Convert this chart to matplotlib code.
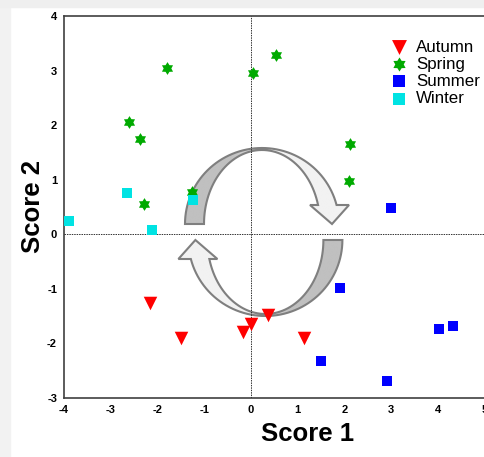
import numpy as np
import matplotlib
matplotlib.use("Agg")
import matplotlib.pyplot as plt
from matplotlib.patches import Polygon, Rectangle
from matplotlib.transforms import Affine2D

plt.rcParams['font.family'] = ['Liberation Sans', 'DejaVu Sans']
plt.rcParams['axes.unicode_minus'] = False

# scores
autumn_x = [-2.16, -1.50, -0.17, 0.00, 0.36, 1.13]
autumn_y = [-1.26, -1.90, -1.79, -1.64, -1.48, -1.90]
spring_x = [-1.80, 0.04, 0.54, -2.61, -2.38, -2.29, -1.26, 2.12, 2.10]
spring_y = [3.05, 2.95, 3.28, 2.06, 1.75, 0.56, 0.78, 1.65, 0.98]
summer_x = [3.00, 1.91, 1.50, 2.91, 4.03, 4.33]
summer_y = [0.48, -0.98, -2.32, -2.69, -1.73, -1.68]
winter_x = [-3.90, -2.66, -2.12, -1.24]
winter_y = [0.24, 0.76, 0.08, 0.63]

xticks = [-4, -3, -2, -1, 0, 1, 2, 3, 4, 5]
yticks = [-3, -2, -1, 0, 1, 2, 3, 4]

W, H = 484, 457
fig = plt.figure(figsize=(W / 100, H / 100), dpi=100)
fig.patch.set_facecolor('white')

# soft grey border at left and top
fig.add_artist(Rectangle((0, 0), 10 / W, 1, transform=fig.transFigure,
                         color='#f2f2f2', zorder=0))
fig.add_artist(Rectangle((0, 1 - 7 / H), 1, 7 / H, transform=fig.transFigure,
                         color='#efefef', zorder=0))

ax = fig.add_axes([64 / W, 1 - 398 / H, 420.75 / W, 382 / H])

# pixel coordinates (y down) -> figure
pix = Affine2D().scale(1 / W, -1 / H).translate(0, 1) + fig.transFigure


def curved_arrow():
    cx, cy = 262, 224
    t_out = np.linspace(np.pi, np.arcsin(19 / 76), 60)
    t_in = np.linspace(np.arcsin(19 / 74), np.pi, 60)
    outer = np.c_[cx + 77 * np.cos(t_out), cy - 76 * np.sin(t_out)]
    inner = np.c_[cx + 58 * np.cos(t_in), cy - 74 * np.sin(t_in)]
    head = np.array([[349, 205], [332, 224], [310, 205]])
    return np.vstack([outer, head, inner])


top = curved_arrow()
bottom = np.c_[527.4 - top[:, 0], 464 - top[:, 1]]

for pts, name, x0, x1 in [(top, 'top', 230, 280), (bottom, 'bot', 245, 290)]:
    poly = Polygon(pts, closed=True, transform=pix, facecolor='none',
                   edgecolor='#7f7f7f', lw=1.5, zorder=3)
    ax.add_patch(poly)
    c1, c2 = ('#c0c0c0', '#f2f2f2') if name == 'top' else ('#f2f2f2', '#c0c0c0')
    cm = matplotlib.colors.LinearSegmentedColormap.from_list(name, [c1, c2])
    # gradient fill across the arrow, clipped to its outline
    xmin, xmax = pts[:, 0].min(), pts[:, 0].max()
    xs = np.linspace(xmin, xmax, 300)
    vals = np.clip((xs - x0) / (x1 - x0), 0, 1).reshape(1, -1)
    im = ax.imshow(vals, cmap=cm, vmin=0, vmax=1, aspect='auto',
                   extent=(xmin, xmax, pts[:, 1].max(), pts[:, 1].min()),
                   transform=pix, zorder=2, interpolation='bilinear')
    im.set_clip_path(poly)

ax.set_xlim(-4, 5)
ax.set_ylim(-3, 4)

ax.axhline(0, color='#333333', lw=0.7, ls=(0, (1.5, 1)), zorder=4)
ax.axvline(0, color='#333333', lw=0.7, ls=(0, (1.5, 1)), zorder=4)

# six-pointed star marker
ang = np.pi / 2 + np.arange(12) * np.pi / 6
rad = np.where(np.arange(12) % 2 == 0, 1.0, 0.6)
hexagram = np.c_[rad * np.cos(ang), rad * np.sin(ang)]

ax.scatter(autumn_x, autumn_y, marker='v', s=95, color='#ff0000', lw=0, label='Autumn', zorder=5)
ax.scatter(spring_x, spring_y, marker=hexagram, s=85, color='#00aa00', lw=0, label='Spring', zorder=5)
ax.scatter(summer_x, summer_y, marker='s', s=62, color='#0000ff', lw=0, label='Summer', zorder=5)
ax.scatter(winter_x, winter_y, marker='s', s=62, color='#00e3e3', lw=0, label='Winter', zorder=5)

ax.set_xticks(xticks)
ax.set_yticks(yticks)
ax.tick_params(length=0, pad=5, labelsize=8)
for lab in ax.get_xticklabels() + ax.get_yticklabels():
    lab.set_fontweight('bold')

for s in ['left', 'bottom', 'top']:
    ax.spines[s].set_color('#404040')
    ax.spines[s].set_linewidth(1.2)
ax.spines['right'].set_visible(False)

ax.set_xlabel('Score 1', fontsize=18.5, fontweight='bold')
ax.xaxis.set_label_coords((308 - 64) / 420.75, -24 / 382)
ax.set_ylabel('Score 2', fontsize=18.5, fontweight='bold')
ax.yaxis.set_label_coords(-19 / 420.75, 0.5)

ax.legend(loc='upper left', bbox_to_anchor=(390.5 / W, 1 - 39.5 / H),
          bbox_transform=fig.transFigure, frameon=False, fontsize=12.2,
          borderpad=0, handlelength=1, handletextpad=0.5, labelspacing=0.13,
          borderaxespad=0, markerscale=1.1)

fig.savefig('out.png', dpi=100)
